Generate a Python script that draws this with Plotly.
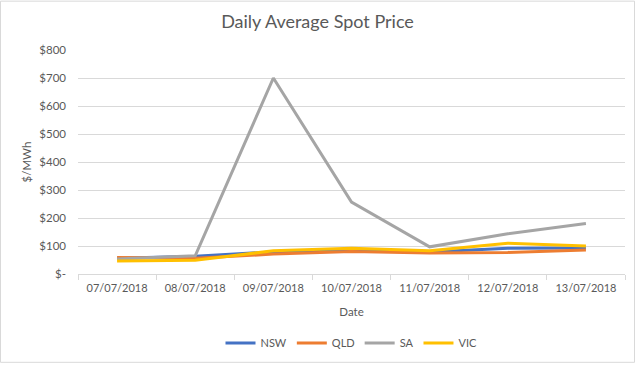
import plotly.graph_objects as go

dates = ["07/07/2018", "08/07/2018", "09/07/2018", "10/07/2018", "11/07/2018", "12/07/2018", "13/07/2018"]
nsw = [56, 63, 79, 86, 79, 92, 93]
qld = [59, 56, 71, 80, 75, 77, 86]
sa = [54, 65, 700, 257, 97, 144, 180]
vic = [46, 49, 83, 92, 83, 110, 100]
y_tickvals = [0, 100, 200, 300, 400, 500, 600, 700, 800]
y_ticktext = ["$-", "$100", "$200", "$300", "$400", "$500", "$600", "$700", "$800"]

series = [("NSW", nsw, "#4472C4"), ("QLD", qld, "#ED7D31"), ("SA", sa, "#A5A5A5"), ("VIC", vic, "#FFC000")]

fig = go.Figure()
for name, vals, col in series:
    fig.add_trace(go.Scatter(x=dates, y=vals, name=name, mode="lines",
                             line=dict(color=col, width=3)))

W, H = 635, 367
L, R, T, B = 78, 10, 50, 90
pw, ph = W - L - R, H - T - B

fig.update_layout(
    width=W, height=H,
    margin=dict(l=L, r=R, t=T, b=B),
    paper_bgcolor="white", plot_bgcolor="white",
    font=dict(family="Lato, Open Sans, sans-serif", color="#595959", size=11),
    title=dict(text="Daily Average Spot Price", x=0.5, xanchor="center", y=1 - 22 / H, yanchor="middle",
               font=dict(size=18, color="#595959"), automargin=False),
    xaxis=dict(type="category", range=[-0.5, len(dates) - 0.5], tickson="boundaries", ticks="outside",
               ticklen=5, tickcolor="#d9d9d9",
               showline=True, linecolor="#d9d9d9", linewidth=1, showgrid=False, automargin=False,
               ticklabelstandoff=4,
               title=dict(text="Date", standoff=14, font=dict(size=11.5, color="#595959")),
               tickfont=dict(size=11, color="#595959")),
    yaxis=dict(range=[0, 800], tickvals=y_tickvals, ticktext=y_ticktext, showgrid=True,
               gridcolor="#d9d9d9", gridwidth=1, zeroline=False, showline=False, automargin=False,
               ticks="", ticklabelstandoff=11,
               title=dict(text="$/MWh", standoff=5, font=dict(size=11.5, color="#595959")),
               tickfont=dict(size=11.5, color="#595959")),
    legend=dict(orientation="h", x=0.5, xanchor="center", y=-(347 - (T + ph)) / ph, yanchor="middle",
                font=dict(size=11, color="#595959"), itemwidth=30, traceorder="normal"),
    showlegend=True,
)

fig.add_shape(type="rect", xref="paper", yref="paper",
              x0=(0.5 - L) / pw, x1=(W - 0.5 - L) / pw,
              y0=-(H - 0.5 - (T + ph)) / ph, y1=(T + ph - 0.5) / ph,
              line=dict(color="#d9d9d9", width=1), layer="below")

fig.write_html("out.html", config={"displayModeBar": False},
               post_script="document.body.style.margin='0';document.body.style.overflow='hidden';")
